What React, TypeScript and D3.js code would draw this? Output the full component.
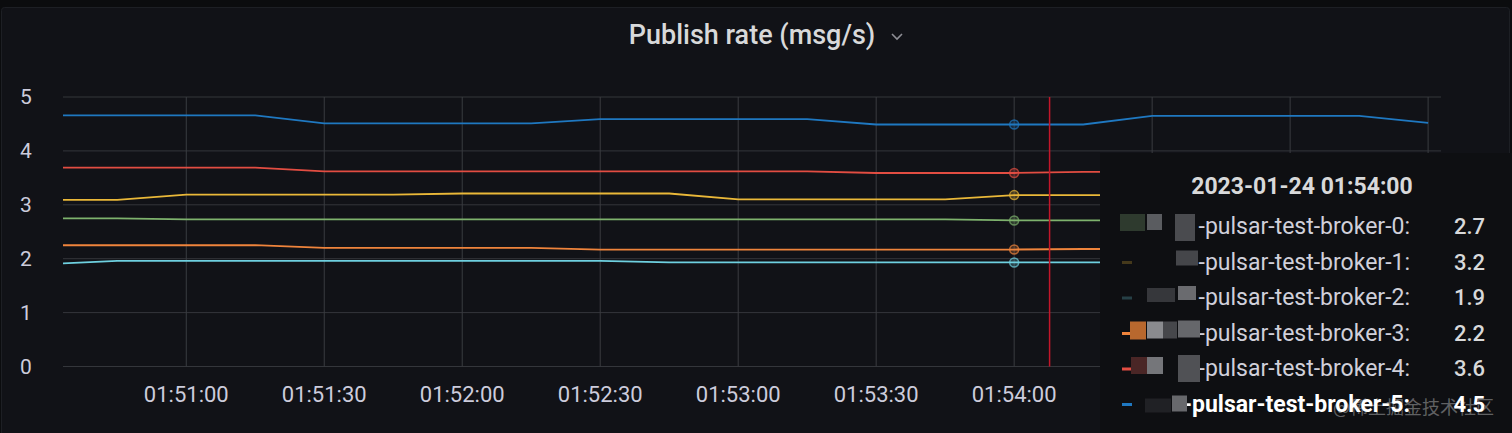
import * as d3 from "d3";

const times = [
  "01:50:30", "01:50:45", "01:51:00", "01:51:15", "01:51:30", "01:51:45", "01:52:00",
  "01:52:15", "01:52:30", "01:52:45", "01:53:00", "01:53:15", "01:53:30", "01:53:45",
  "01:54:00", "01:54:15", "01:54:30", "01:54:45", "01:55:00", "01:55:15", "01:55:30",
];

const broker0 = [2.75, 2.75, 2.73, 2.73, 2.73, 2.73, 2.73, 2.73, 2.73, 2.73, 2.73, 2.73, 2.73, 2.73, 2.71, 2.71, 2.71, 2.71, 2.71, 2.71, 2.71];
const broker1 = [3.09, 3.09, 3.19, 3.19, 3.19, 3.19, 3.21, 3.21, 3.21, 3.21, 3.10, 3.10, 3.10, 3.10, 3.18, 3.18, 3.18, 3.18, 3.18, 3.18, 3.18];
const broker2 = [1.9, 1.96, 1.96, 1.96, 1.96, 1.96, 1.96, 1.96, 1.96, 1.93, 1.93, 1.93, 1.93, 1.93, 1.93, 1.93, 1.93, 1.93, 1.93, 1.93, 1.93];
const broker3 = [2.25, 2.25, 2.25, 2.25, 2.2, 2.2, 2.2, 2.2, 2.17, 2.17, 2.17, 2.17, 2.17, 2.17, 2.17, 2.18, 2.18, 2.18, 2.18, 2.18, 2.18];
const broker4 = [3.69, 3.69, 3.69, 3.69, 3.62, 3.62, 3.62, 3.62, 3.62, 3.62, 3.62, 3.62, 3.59, 3.59, 3.59, 3.61, 3.61, 3.61, 3.61, 3.61, 3.61];
const broker5 = [4.66, 4.66, 4.66, 4.66, 4.51, 4.51, 4.51, 4.51, 4.59, 4.59, 4.59, 4.59, 4.49, 4.49, 4.49, 4.49, 4.65, 4.65, 4.65, 4.65, 4.52];

const seriesNames = [
  "pulsar-test-broker-0", "pulsar-test-broker-1", "pulsar-test-broker-2",
  "pulsar-test-broker-3", "pulsar-test-broker-4", "pulsar-test-broker-5",
];
const seriesValues = [broker0, broker1, broker2, broker3, broker4, broker5];
const colors = ["#7EB26D", "#EAB839", "#6ED0E0", "#EF843C", "#E24D42", "#1F78C1"];

const xTicks = ["01:51:00", "01:51:30", "01:52:00", "01:52:30", "01:53:00", "01:53:30", "01:54:00", "01:54:30", "01:55:00", "01:55:30"];
const yTicks = [0, 1, 2, 3, 4, 5];

const domainStart = "01:50:33.2";
const domainEnd = "01:55:32.8";
const hoverTime = "01:54:00";
const cursorTime = "01:54:07.7";
const hoverLabel = "2023-01-24 01:54:00";

// time string -> seconds
const sec = (t: string) => {
  const [h, m, s] = t.split(":");
  return +h * 3600 + +m * 60 + +s;
};

// pixelated blocks in front of tooltip labels (row, x, y offset, w, h, color)
const mosaic: [number, number, number, number, number, string][] = [
  [0, 1120, -13, 25, 17, "#2e3a2e"], [0, 1147, -13, 15, 16, "#5a5c60"], [0, 1175, -13, 20, 27, "#4a4b4f"],
  [1, 1176, -12, 22, 15, "#45464a"],
  [2, 1147, -10, 28, 14, "#36373b"], [2, 1178, -12, 18, 14, "#6a6b6f"],
  [3, 1130, -12, 16, 18, "#b8682e"], [3, 1147, -12, 16, 17, "#8a8b8f"], [3, 1163, -12, 14, 17, "#46474b"], [3, 1178, -13, 22, 17, "#66676b"],
  [4, 1131, -12, 16, 17, "#4a2626"], [4, 1147, -12, 16, 17, "#75767a"], [4, 1178, -14, 22, 27, "#505155"],
  [5, 1145, -6, 26, 14, "#202125"], [5, 1172, -9, 15, 16, "#67686c"],
];

export default function App() {
  const W = 1512;
  const H = 433;
  const left = 63;
  const right = 1441;
  const top = 97;
  const bottom = 366.5;

  const x = d3.scaleLinear().domain([sec(domainStart), sec(domainEnd)]).range([left, right]);
  const y = d3.scaleLinear().domain([0, 5]).range([bottom, top]);
  const fmt = d3.format(".1f");
  const hoverIdx = times.indexOf(hoverTime);

  const line = d3
    .line<number>()
    .x((_, i) => x(sec(times[i])))
    .y((d) => y(d));

  const rowY = (i: number) => 234 + i * 35.5;
  const font = "Roboto, 'Noto Sans', sans-serif";

  return (
    <svg width={W} height={H} style={{ position: "absolute", left: 0, top: 0 }} fontFamily={font}>
      <defs>
        <clipPath id="plot">
          <rect x={left} y={0} width={right - left} height={H} />
        </clipPath>
      </defs>
      <rect width={W} height={H} fill="#0b0c0e" />
      <rect x={1.5} y={7.5} width={W - 4} height={H} rx={3} fill="#111217" stroke="#1d1f24" />

      {/* title */}
      <text x={752} y={44} textAnchor="middle" fontSize={27} fontWeight={500} fill="#d8d9da">
        Publish rate (msg/s)
      </text>
      <path d="M892,34 L897,39 L902,34" fill="none" stroke="#8e8e95" strokeWidth={1.6} />

      {/* grid */}
      {yTicks.map((t) => (
        <line key={"h" + t} x1={left} x2={right} y1={y(t)} y2={y(t)} stroke="#34363b" strokeWidth={1} />
      ))}
      {xTicks.map((t) => (
        <line key={"v" + t} x1={x(sec(t))} x2={x(sec(t))} y1={top} y2={bottom} stroke="#3a3c41" strokeWidth={1} />
      ))}

      {/* axes labels */}
      {yTicks.map((t) => (
        <text key={"yl" + t} x={26} y={y(t) + 7} textAnchor="middle" fontSize={21} fill="#ccccdc">
          {t}
        </text>
      ))}
      {xTicks.map((t) => (
        <text key={"xl" + t} x={x(sec(t))} y={402} textAnchor="middle" fontSize={22} fill="#ccccdc">
          {t}
        </text>
      ))}

      {/* series */}
      <g clipPath="url(#plot)">
        {seriesValues.map((vals, i) => (
          <path key={seriesNames[i]} d={line(vals) ?? ""} fill="none" stroke={colors[i]} strokeWidth={1.8} />
        ))}
      </g>

      {/* hover markers */}
      {seriesValues.map((vals, i) => (
        <circle
          key={"c" + i}
          cx={x(sec(hoverTime))}
          cy={y(vals[hoverIdx])}
          r={4.5}
          fill={colors[i]}
          fillOpacity={0.25}
          stroke={colors[i]}
          strokeOpacity={0.7}
          strokeWidth={1.5}
        />
      ))}
      <line x1={x(sec(cursorTime))} x2={x(sec(cursorTime))} y1={top} y2={bottom} stroke="#c4162a" strokeWidth={1.5} />

      {/* bottom legend, cut by the frame */}
      {seriesNames.slice(0, 3).map((n, i) => (
        <text key={"lg" + i} x={[140, 565, 800][i]} y={449} fontSize={21} fill="#ccccdc">
          {n}
        </text>
      ))}

      {/* tooltip */}
      <rect x={1100} y={153} width={W - 1100} height={H - 153} fill="#0e0f12" />
      <text x={1302} y={194} textAnchor="middle" fontSize={23} fontWeight={700} fill="#d8d9da">
        {hoverLabel}
      </text>
      {seriesNames.map((n, i) => (
        <g key={"tt" + i}>
          <line x1={1122} x2={1132} y1={rowY(i) - 7} y2={rowY(i) - 7} stroke={colors[i]} strokeWidth={3} opacity={i < 3 ? 0.25 : 1} />
          <text
            x={1410}
            y={rowY(i)}
            textAnchor="end"
            fontSize={23}
            fontWeight={i === 5 ? 700 : 400}
            fill={i === 5 ? "#ffffff" : "#d0d0da"}
          >
            {"-" + n + ":"}
          </text>
          <text
            x={1485}
            y={rowY(i)}
            textAnchor="end"
            fontSize={22}
            fontWeight={i === 5 ? 700 : 500}
            fill={i === 5 ? "#ffffff" : "#d8d9da"}
          >
            {fmt(seriesValues[i][hoverIdx])}
          </text>
        </g>
      ))}
      {mosaic.map(([r, mx, dy, w, h, c], k) => (
        <rect key={"m" + k} x={mx} y={rowY(r) - 7 + dy} width={w} height={h} fill={c} />
      ))}

      <text x={1333} y={414} fontSize={18} fill="#ffffff" fillOpacity={0.35} fontFamily="'Noto Sans CJK SC', sans-serif">
        @稀土掘金技术社区
      </text>
    </svg>
  );
}
